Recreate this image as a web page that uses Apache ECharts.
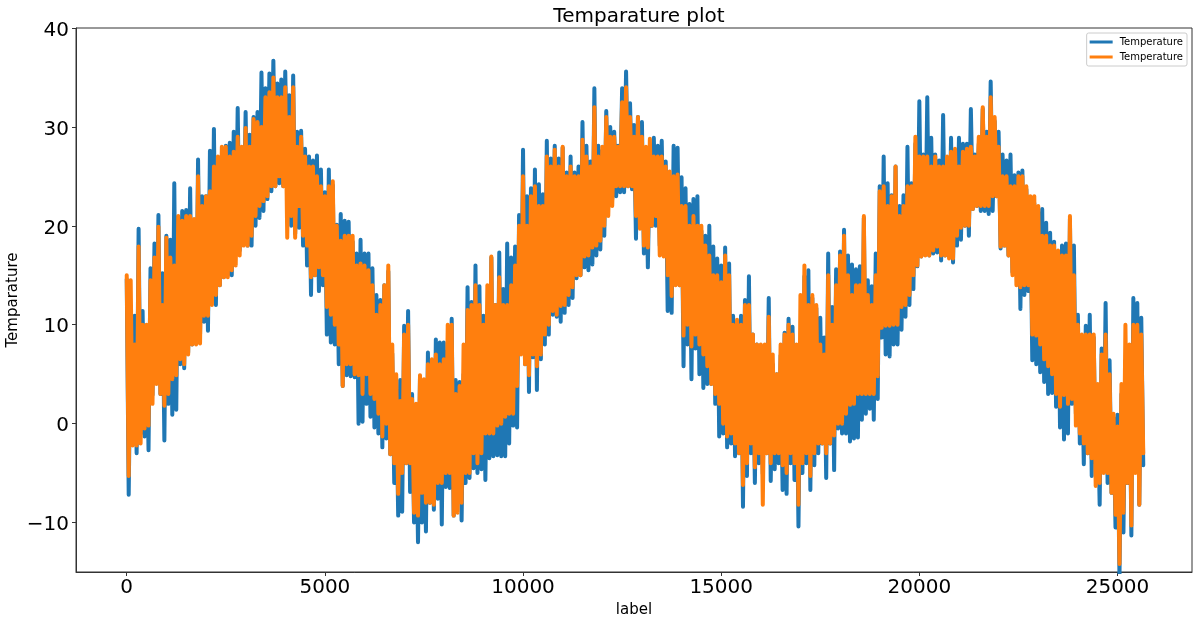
<!DOCTYPE html>
<html><head><meta charset="utf-8">
<style>html,body{margin:0;padding:0;background:#fff}#c{width:1198px;height:624px}</style>
<script src="https://cdn.jsdelivr.net/npm/echarts@6/dist/echarts.min.js"></script>
</head><body><div id="c"></div>
<script>
const chartTitle = 'Temparature plot';
const xName = 'label';
const yName = 'Temparature';
const xTicks = [0, 5000, 10000, 15000, 20000, 25000];
const yTicks = [-10, 0, 10, 20, 30, 40];
const sampleStep = 100;

const blueHigh = [
14.6,9.8,10.9,19.7,11.4,9.8,15.7,18.2,21.1,15.2,
19,18.6,24.3,20.9,21.5,21.6,23.8,20.3,26.7,23,
23,27.6,29.8,26.3,26.5,28.1,28.4,29.5,31.9,27,
31.5,29.2,31,31.5,35.5,33.9,35.4,36.7,34.4,34.8,
35.6,33.2,35.2,29.5,29.6,27.8,27,26.6,27.1,25.7,
23.4,25.7,24.1,20.1,21.2,20.5,20.4,18.4,17.2,18.6,
17.2,17.2,15.7,13,12.5,14,15.4,7.1,3.4,4.4,
9.9,11.4,3,1.3,4.8,4.2,7.2,6.3,8.5,8.2,
8.2,7.4,10.6,4.4,4.2,5,13.8,12.3,16,13.9,
10.9,10.3,16.8,12,17.3,13.6,18.2,16.8,17.9,21.1,
27.7,23,23.8,25.7,24.2,23.2,28.6,26.8,28.1,26.8,
27.9,25.4,27,25.4,26,30.5,28.1,26.5,33.9,28.1,
27.6,31.6,30,29.5,28.1,33.9,35.6,32.4,30.2,31,
30.5,27.6,28.1,28.9,28.1,28.6,26.5,24.9,28.1,27.9,
24.9,23.8,22.2,22.7,23,19.5,19,20,17.9,16.7,
16,17.8,16.2,10.9,9.4,10.9,12.5,14.9,9,8,
7.8,6.5,12.7,6,5,6.9,9.2,10.6,9.8,6.5,
7.6,14.9,15.5,12.7,11.7,10.7,8.7,17.2,11.8,15.6,
17.4,19.6,17,16.1,15.6,15.9,20.8,14.5,13.9,17.2,
24,27,24.3,23.1,26,22,23.1,28,24.3,28.3,
32.6,27.2,33,28.9,27.2,26.6,31.2,26,28.9,27.2,
28.9,28.3,28.3,31.8,27.2,28.3,31.8,29.5,34.6,30.6,
29.5,27.2,26.6,27.2,25.1,25.4,25.6,23.7,22.8,22.3,
21.4,21.7,20.3,19.3,18.4,16.8,18,18.2,20.7,18,
11,7.6,9.9,11,8.7,1.8,7.6,12.2,6.4,0.6,
0.9,3,6.4,7.6,12.7,12.2,10.7];
const blueLow = [
-7.2,-2,-3,-1,-1.3,-2.7,2.9,4.5,3,-1.7,
2,0.9,1.4,6,5.6,7.2,8,8.1,9,10.3,
9.4,12.5,12,14,14.8,15,15,17.2,17.5,19,
18,18,20,20.8,21.5,22.7,23.5,24,24.3,24,
24.4,20,19.2,19.8,18,16,13,15,13.4,14,
9,8.2,8,6,3.8,4.9,4.8,4.7,0,0.2,
2,0.7,-0.4,-1,-2.4,-1.5,-3.1,-6,-9.3,-8.9,
-4,-6.9,-10,-12,-10,-10.9,-8,-8.7,-7.6,-10.2,
-6.4,-6.5,-9.3,-7.5,-9.8,-6,-5.5,-4.5,-5,-4.6,
-5.7,-3.5,-3.3,-3.2,-3.3,-3.3,-2,-0.2,-0.4,8,
6,3.2,6.7,3.4,6.5,8,9,11,10.8,10.3,
11.2,12,12.7,14.7,15,15.8,15.5,16.1,17,17.6,
19,22,22.7,23,23.4,23.4,24,23.7,18.7,20,
17.2,15.8,20,20,18,17,11.4,11.2,14.1,14,
5.8,8,4.5,7.6,5,3.6,4,4,2,-1.3,
-1,-2.4,-2,-3.3,-3,-8.4,-5.3,-3,-6,-4,
-5.1,-3,-5.8,-4.6,-4,-6.7,-7.1,-4,-5.7,-10.4,
-5,-4,-6.7,-4.2,-3,-2,-5.5,-2,-4.7,-0.5,
-1,-1,-1.8,-1.5,-1.4,0.4,1,1.5,0.4,2.5,
8.7,7,6.8,8,8,9.5,10.8,12,13.6,15.9,
16.9,17.1,17,17.2,17.3,16.5,17,17,16.3,18,
18.6,20,19,21.7,22,21.5,21.5,21.2,21.5,23,
17.7,18,17,15.3,15,11.6,13,13.4,6.4,6,
5.2,4.2,3,3.1,1.7,-0.4,-1.6,-1,2,1,
-2,-4.1,-3,-5.3,-4,-8.2,-4.3,-6,-7,-10.5,
-15.5,-11,-6,-11.3,-3,-8.2,-4.2];
const orangeHigh = [
15,14.5,8,17.9,10,10,14.5,16.8,19.9,12,
18.8,16.8,16,21,20.5,21,21,20.7,25,22,
23,23.5,26,27,28,28,27,27.5,29,28,
29.9,28,30.8,30.5,30,33,33.5,35,33,33,
34,31,34,28,29,27,26,26,25,24,
23,24,24.5,20,18.5,19,19,19,16,16.2,
16,15.5,14,11,12,14,16,8,5,2.3,
9,10,2.5,2,4.9,4.5,6,6.5,7,6,
6.5,10,10,3,3.8,8,11.5,12,14,12,
10,14,16.9,12,14.8,12,12,14,16,20,
25,20,23,24,22,22,27,26,27.7,26,
28,25,26,25,25,28.7,27,26,32,27,
28,31,29,29,28,32.5,34,31,29,31,
29,28,28.8,27,27,27,26,25.5,25,25.2,
22,22,20,21,20,20,18,17,15,15,
14.3,17,15,10,10.5,10,12,12,9,8,
8,8,10.8,7,5,8,9,10,9,8,
13,16,12,13,12,8,7,15,10,14,
17,19,15,13,14,14,21,13,12,15,
23.5,24,22,23,26,21,22,24,24,29,
27,27,27,26,27,26,26,27,27.5,27.8,
26,27.5,27.8,28,27,29,32,29,33,31,
28,25,25,24,24,25,25,24,23,23,
22,19,19,18,18,17.5,17,17,21,15,
10,9,9,9,9,4,7,9,5,1,
-0.3,4,10,8,10,10,9];
const orangeLow = [
-5.3,-2.2,-2.2,-2,-0.5,-0.2,2,4,3,1.8,
3,4.5,4.9,6.5,6,7,8,8,8.1,10.9,
10.9,12,13,14,14.8,14.8,15.5,16,17,18,
18,19,21,22,22.5,23,24,24,25,24,
18.8,21,18.8,22,19,18,14.8,15,15.8,15,
11.8,11,10,8,3.8,6,6,5,4.9,3,
5,3,2.5,1,-1.3,0,-3.1,-4,-7.1,-5,
-4,-4,-9,-9.3,-7,-8,-8,-8.2,-6,-6,
-5,-5,-9.3,-9,-8,-5,-5,-3,-4,-3,
-1,-1,-1,-0.2,0,0.7,1,1,3.8,7,
6,4.9,7,5.8,7,9,10,11.4,11,11.9,
12,13,13.8,15,15,16.9,17,17.8,18,18.5,
20,21,22,24,24,24,24,24,21,19.7,
18,17.8,20,21,17,16.9,15,12.9,14,14,
8.9,10,7.8,9,8,7,5.8,4,3,2,
0,-1.3,-1,-2,-3,-6.2,-4,-2,-4.4,-3,
-8.2,-3,-4,-3,-3,-4.2,-5,-3,-4,-8.2,
-4,-3,-5.3,-3,-2,-2,-3,-2,-1.2,0,
0,1,1.9,2,3,3,3,3,3,4.8,
9.7,9.9,9.9,10,10,11.8,12,13,15,16,
16.9,17,17,17.5,17.9,17,17,16.7,16.7,19,
19.8,20,20,21.7,22,22,22,22,23,23,
17.9,18,17,15,14,13.8,14,14,9,8.9,
8,6.5,5.8,5,3,1.7,2.9,2,2.5,-0.2,
-1,-2,-3,-3.5,-6.3,-6,-5,-5,-7,-9.2,
-14.2,-9,-6,-10.3,-5,-8.2,-3];

function zigzag(high, low) {
  const pts = [];
  high.forEach((h, i) => {
    pts.push([i * sampleStep, h]);
    pts.push([i * sampleStep + sampleStep / 2, low[i]]);
  });
  return pts;
}
const FONT = '"DejaVu Sans"';
const plain = v => String(v).replace('-', '\u2212');
const chart = echarts.init(document.getElementById('c'), null, {renderer: 'canvas'});
const line = (name, color, high, low) => ({
  name, type: 'line', data: zigzag(high, low), showSymbol: false, symbol: 'none',
  sampling: false, clip: true, silent: true, animation: false,
  lineStyle: {color, width: 4, cap: 'round', join: 'round'},
  itemStyle: {color}
});
chart.setOption({
  animation: false,
  backgroundColor: '#fff',
  title: {text: chartTitle, left: 634, textAlign: 'center', top: 2,
    textStyle: {fontFamily: FONT, fontSize: 20, fontWeight: 'normal', color: '#000'}},
  legend: {
    orient: 'vertical', right: 11, top: 33, icon: 'rect', itemWidth: 23, itemHeight: 3, itemGap: 5,
    padding: [4, 4, 4, 3], backgroundColor: '#fff', borderColor: '#ccc', borderWidth: 1, borderRadius: 2,
    formatter: n => n.trim(),
    textStyle: {fontFamily: FONT, fontSize: 10, color: '#000', padding: [0, 0, 0, 2]},
    data: ['Temperature', 'Temperature ']
  },
  grid: {left: 76, right: 6, top: 28, bottom: 52, outerBoundsMode: 'none', show: true, borderColor: '#333', borderWidth: 1, backgroundColor: '#fff'},
  xAxis: {
    type: 'value', min: -1280, max: 26880, name: xName, nameLocation: 'middle', nameGap: 30,
    nameTextStyle: {fontFamily: FONT, fontSize: 15, color: '#000'},
    axisLine: {show: true, onZero: false, lineStyle: {color: '#333'}},
    axisTick: {show: true, length: 4, customValues: xTicks, lineStyle: {color: '#333'}},
    axisLabel: {customValues: xTicks, formatter: plain, fontFamily: FONT, fontSize: 20, color: '#000', margin: 6},
    splitLine: {show: false}
  },
  yAxis: {
    type: 'value', min: -15, max: 40, name: yName, nameLocation: 'middle', nameGap: 55, nameMoveOverlap: false,
    nameTextStyle: {fontFamily: FONT, fontSize: 15, color: '#000'},
    axisLine: {show: true, onZero: false, lineStyle: {color: '#333'}},
    axisTick: {show: true, length: 4, customValues: yTicks, lineStyle: {color: '#333'}},
    axisLabel: {customValues: yTicks, formatter: plain, fontFamily: FONT, fontSize: 20, color: '#000', margin: 7, verticalAlign: 'top', lineHeight: 5},
    splitLine: {show: false}
  },
  series: [
    line('Temperature', '#1f77b4', blueHigh, blueLow),
    line('Temperature ', '#ff7f0e', orangeHigh, orangeLow)
  ]
});
</script></body></html>
